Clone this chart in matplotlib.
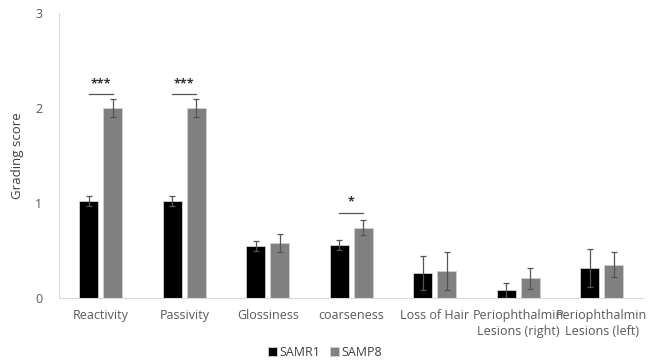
import numpy as np
import matplotlib
import matplotlib.pyplot as plt

matplotlib.rc("font", **{"family": ["Open Sans", "DejaVu Sans"], "size": 9})

categories = ["Reactivity", "Passivity", "Glossiness", "coarseness",
              "Loss of Hair", "Periophthalmin\nLesions (right)",
              "Periophthalmin\nLesions (left)"]
samr1 = [1.02, 1.02, 0.55, 0.56, 0.26, 0.08, 0.32]
samr1_err = [0.05, 0.05, 0.05, 0.05, 0.18, 0.08, 0.20]
samp8 = [2.0, 2.0, 0.58, 0.74, 0.29, 0.21, 0.35]
samp8_err = [0.09, 0.09, 0.09, 0.08, 0.20, 0.11, 0.13]
# significance marks: (category index, bar height, label)
signif = [(0, 2.15, "***"), (1, 2.15, "***"), (3, 0.90, "*")]

fig = plt.figure(figsize=(6.53, 3.6), dpi=100)
ax = fig.add_axes([0.0904, 0.172, 0.895, 0.792])

x = np.arange(len(categories))
w = 0.23
off = 0.145
txt = "#595959"

ax.bar(x - off, samr1, w, color="black", edgecolor="#d0d0d0",
       linewidth=0.6, label="SAMR1")
ax.bar(x + off, samp8, w, color="#808080", edgecolor="#d0d0d0",
       linewidth=0.6, label="SAMP8")
ax.errorbar(x - off, samr1, yerr=samr1_err, fmt="none", ecolor="#555555",
            elinewidth=0.9, capsize=2.5, capthick=0.9)
ax.errorbar(x + off, samp8, yerr=samp8_err, fmt="none", ecolor="#555555",
            elinewidth=0.9, capsize=2.5, capthick=0.9)

for i, h, lab in signif:
    ax.plot([x[i] - off, x[i] + off], [h, h], color="#555555", lw=0.9)
    ax.text(x[i], h + 0.04, lab, ha="center", va="bottom", color="#333333",
            fontsize=9, fontweight="bold")

ax.set_xlim(-0.5, len(categories) - 0.5)
ax.set_ylim(0, 3)
ax.set_yticks([0, 1, 2, 3])
ax.set_xticks(x)
ax.set_xticklabels(categories, color=txt, linespacing=1.3)
ax.tick_params(axis="y", length=0, pad=12, colors=txt)
ax.tick_params(axis="x", length=0, pad=8, colors=txt)
ax.set_ylabel("Grading score", color="#404040", fontsize=9.5, labelpad=8)

for s in ["top", "right"]:
    ax.spines[s].set_visible(False)
ax.spines["left"].set_color("#d9d9d9")
ax.spines["bottom"].set_color("#d9d9d9")

ax.legend(loc="center", bbox_to_anchor=(0.455, -0.19), ncol=2,
          frameon=False, handlelength=0.7, handleheight=0.7,
          handletextpad=0.2, columnspacing=0.8, labelcolor="#404040",
          fontsize=9, borderaxespad=0, borderpad=0)

fig.savefig("out.png", dpi=100)
